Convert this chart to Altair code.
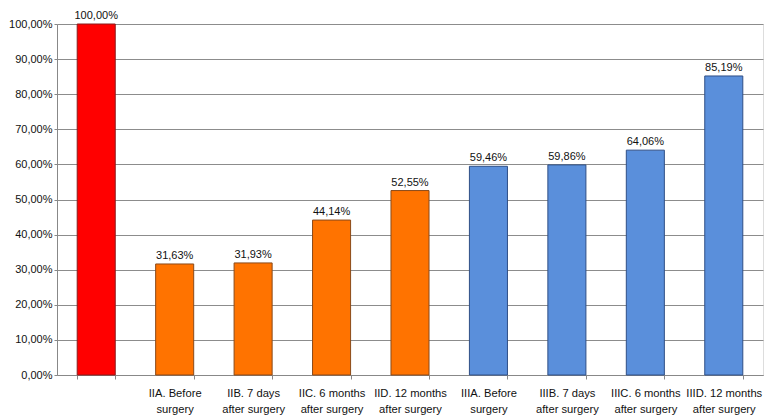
import altair as alt
import pandas as pd

labels = [
    " ",
    "IIA. Before|surgery",
    "IIB. 7 days|after surgery",
    "IIC. 6 months|after  surgery",
    "IID. 12 months|after  surgery",
    "IIIA. Before|surgery",
    "IIIB. 7 days|after surgery",
    "IIIC. 6 months|after  surgery",
    "IIID. 12 months|after surgery",
]
values = [100.00, 31.63, 31.93, 44.14, 52.55, 59.46, 59.86, 64.06, 85.19]
groups = ["I", "II", "II", "II", "II", "III", "III", "III", "III"]
y_ticks = [0, 10, 20, 30, 40, 50, 60, 70, 80, 90, 100]

group_names = ["I", "II", "III"]
fill_colors = ["#ff0000", "#ff7300", "#5a8fdb"]
stroke_colors = ["#8a1c1c", "#8a4a1a", "#2f4f86"]

df = pd.DataFrame({"label": labels, "value": values, "group": groups})

FONT = "Liberation Sans"

x_axis = alt.Axis(
    title=None,
    labelAngle=0,
    labelExpr="split(datum.label, '|')",
    labelFont=FONT,
    labelFontSize=11.2,
    labelColor="#111111",
    labelLineHeight=16,
    labelPadding=8,
    labelOverlap=False,
    tickSize=4,
    tickBand="extent",
    tickColor="#888888",
    domainColor="#888888",
    grid=False,
)

y_axis = alt.Axis(
    title=None,
    values=y_ticks,
    labelExpr="replace(format(datum.value, '.2f'), '.', ',') + '%'",
    labelFont=FONT,
    labelFontSize=11,
    labelColor="#111111",
    labelPadding=2,
    labelOverlap=False,
    labelFlush=False,
    tickSize=3,
    tickColor="#888888",
    domainColor="#888888",
    gridColor="#8c8c8c",
    gridWidth=1,
    gridOpacity=1,
)

x_scale = alt.Scale(paddingInner=0.515, paddingOuter=0.2575)
y_scale = alt.Scale(domain=[0, 100], nice=False)

bars = alt.Chart(df).mark_bar(strokeWidth=1).encode(
    x=alt.X("label:N", sort=labels, scale=x_scale, axis=x_axis),
    y=alt.Y("value:Q", scale=y_scale, axis=y_axis),
    fill=alt.Fill("group:N", scale=alt.Scale(domain=group_names, range=fill_colors), legend=None),
    stroke=alt.Stroke("group:N", scale=alt.Scale(domain=group_names, range=stroke_colors), legend=None),
)

text = alt.Chart(df).transform_calculate(
    txt="replace(format(datum.value, '.2f'), '.', ',') + '%'"
).mark_text(baseline="alphabetic", dy=-5, font=FONT, fontSize=11, color="#111111").encode(
    x=alt.X("label:N", sort=labels, scale=x_scale, axis=x_axis),
    y=alt.Y("value:Q", scale=y_scale, axis=y_axis),
    text="txt:N",
)

chart = alt.layer(bars, text).properties(
    width=706,
    height=351,
    autosize=alt.AutoSizeParams(type="none"),
    padding={"left": 49, "top": 16, "right": 5, "bottom": 45},
).configure_view(stroke=None).configure(background="white")

chart.save("out.html", embed_options={"renderer": "svg", "actions": False})
